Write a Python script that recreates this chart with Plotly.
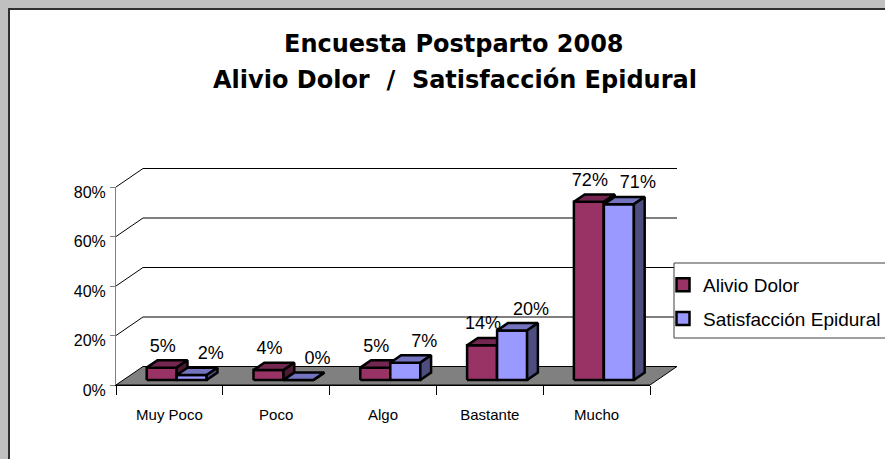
import plotly.graph_objects as go

# ---------------- data ----------------
categories = ["Muy Poco", "Poco", "Algo", "Bastante", "Mucho"]
alivio_dolor = [5, 4, 5, 14, 72]
satisfaccion_epidural = [2, 0, 7, 20, 71]
series_names = ["Alivio Dolor", "Satisfacción Epidural"]
y_tick_values = [0, 20, 40, 60, 80]
y_tick_labels = ["0%", "20%", "40%", "60%", "80%"]
title_line_1 = "Encuesta Postparto 2008"
title_line_2 = "Alivio Dolor \u00a0/\u00a0 Satisfacción Epidural"

# ---------------- geometry / style ----------------
W, H = 885, 459
FX0, FX1 = 116, 650          # front plane, pixels
FY0, FY1 = 385, 187          # y pixel of 0 and of YMAX on the front plane
YMAX = 80
n = len(categories)
sx = (FX1 - FX0) / n         # px per category
sy = (FY0 - FY1) / YMAX      # px per percent
DEPTH_DX, DEPTH_DY = 27, 18.5
ddx = DEPTH_DX / sx
ddy = DEPTH_DY / sy
bar_w = 30 / sx
f0, fd = 0.27, 0.40          # bar front position and depth (fraction of full depth)

front_cols = ["#993366", "#9999FF"]
top_cols = ["#732650", "#7373BF"]
side_cols = ["#4D1A33", "#4D4D80"]
label_dx_px = [1, 19]
label_dy_px = 13

FONT = "Liberation Sans, Arial, sans-serif"


def xv(px):
    return (px - FX0) / sx - 0.5


def yv(py):
    return (FY0 - py) / sy


# overlay subplot (3D drawing) pixel box
OX0, OX1, OY0, OY1 = 100, 700, 400, 150

fig = go.Figure()

# invisible trace so the category axis of the front plane has its categories
fig.add_trace(go.Scatter(x=categories, y=alivio_dolor, mode="none",
                         showlegend=False, hoverinfo="skip", xaxis="x", yaxis="y"))

# floor
fig.add_trace(go.Scatter(
    x=[-0.5, -0.5 + ddx, n - 0.5 + ddx, n - 0.5, -0.5],
    y=[0, ddy, ddy, 0, 0],
    mode="lines", fill="toself", fillcolor="#808080",
    line=dict(color="#000000", width=1),
    showlegend=False, hoverinfo="skip", xaxis="x2", yaxis="y2"))

# side & back wall grid lines
gx, gy = [], []
for v in y_tick_values[1:]:
    gx += [-0.5, -0.5 + ddx, n - 0.5 + ddx, None]
    gy += [v, v + ddy, v + ddy, None]
fig.add_trace(go.Scatter(x=gx, y=gy, mode="lines",
                         line=dict(color="#000000", width=1),
                         showlegend=False, hoverinfo="skip", xaxis="x2", yaxis="y2"))

# 3D bars
series = [alivio_dolor, satisfaccion_epidural]
lab_x, lab_y, lab_t = [], [], []
for s, vals in enumerate(series):
    fx, fy, tx, ty, sxs, sys_ = [], [], [], [], [], []
    for i, v in enumerate(vals):
        xl = i + f0 * ddx - bar_w + s * bar_w
        xr = xl + bar_w
        b = f0 * ddy
        t = b + v
        dx, dy = fd * ddx, fd * ddy
        fx += [xl, xr, xr, xl, xl, None]
        fy += [b, b, t, t, b, None]
        tx += [xl, xr, xr + dx, xl + dx, xl, None]
        ty += [t, t, t + dy, t + dy, t, None]
        sxs += [xr, xr + dx, xr + dx, xr, xr, None]
        sys_ += [b, b + dy, t + dy, t, b, None]
        lab_x.append(xl + bar_w / 2 + label_dx_px[s] / sx)
        lab_y.append(t + dy + label_dy_px / sy)
        lab_t.append(f"{v}%")
    for px_, py_, col in [(fx, fy, front_cols[s]), (tx, ty, top_cols[s]), (sxs, sys_, side_cols[s])]:
        fig.add_trace(go.Scatter(x=px_, y=py_, mode="lines", fill="toself",
                                 fillcolor=col, line=dict(color="#000000", width=2.5),
                                 showlegend=False, hoverinfo="skip",
                                 xaxis="x2", yaxis="y2"))

# data labels
fig.add_trace(go.Scatter(x=lab_x, y=lab_y, text=lab_t, mode="text",
                         textposition="middle center",
                         textfont=dict(family=FONT, size=18, color="#000000"),
                         cliponaxis=False, showlegend=False, hoverinfo="skip",
                         xaxis="x2", yaxis="y2"))

# legend entries
for s, name in enumerate(series_names):
    fig.add_trace(go.Scatter(x=[None], y=[None], mode="markers", name=name,
                             legendgroup=name,
                             marker=dict(symbol="square", size=13, color=front_cols[s],
                                         line=dict(color="#000000", width=2.5)),
                             xaxis="x2", yaxis="y2"))

fig.update_layout(
    width=W, height=H,
    margin=dict(l=0, r=0, t=0, b=0, autoexpand=False),
    paper_bgcolor="#C0C0C0",
    plot_bgcolor="rgba(0,0,0,0)",
    showlegend=True,
    xaxis=dict(domain=[FX0 / W, FX1 / W], range=[-0.5, n - 0.5], type="category",
               categoryorder="array", categoryarray=categories,
               tickson="boundaries", ticks="outside", ticklen=9, tickwidth=1,
               tickcolor="#000000", showline=True, linecolor="#000000", linewidth=1,
               showgrid=False, zeroline=False, ticklabelstandoff=16,
               tickfont=dict(family=FONT, size=15, color="#000000"), anchor="y",
               fixedrange=True),
    yaxis=dict(domain=[1 - FY0 / H, 1 - FY1 / H], range=[0, YMAX],
               tickmode="array", tickvals=y_tick_values, ticktext=y_tick_labels,
               ticks="outside", ticklen=5, tickcolor="#808080", showline=True,
               linecolor="#808080", linewidth=1, showgrid=False, zeroline=False,
               ticklabelshift=5, ticklabelstandoff=1,
               tickfont=dict(family=FONT, size=16, color="#000000"), anchor="x",
               fixedrange=True),
    xaxis2=dict(domain=[OX0 / W, OX1 / W], range=[xv(OX0), xv(OX1)], visible=False,
                anchor="y2", fixedrange=True),
    yaxis2=dict(domain=[1 - OY0 / H, 1 - OY1 / H], range=[yv(OY0), yv(OY1)], visible=False,
                anchor="x2", fixedrange=True),
    legend=dict(x=(703 - 40) / W, xanchor="left", y=1 - 266 / H, yanchor="top",
                bgcolor="rgba(0,0,0,0)", borderwidth=0, traceorder="grouped",
                tracegroupgap=6,
                font=dict(family=FONT, size=19, color="#000000")),
    shapes=[
        dict(type="rect", xref="paper", yref="paper", x0=9 / W, x1=1.05,
             y0=-0.05, y1=1 - 9 / H, fillcolor="#FFFFFF",
             line=dict(color="#303030", width=2), layer="below"),
        dict(type="rect", xref="paper", yref="paper", x0=674 / W, x1=1.05,
             y0=1 - 338 / H, y1=1 - 263 / H, fillcolor="#FFFFFF",
             line=dict(color="#404040", width=1), layer="above"),
    ],
    annotations=[
        dict(text=title_line_1, xref="paper", yref="paper", x=454 / W, y=1 - 43.5 / H,
             xanchor="center", yanchor="middle", showarrow=False,
             font=dict(family="DejaVu Sans", size=24, weight="bold", color="#000000")),
        dict(text=title_line_2, xref="paper", yref="paper", x=455 / W, y=1 - 79.5 / H,
             xanchor="center", yanchor="middle", showarrow=False,
             font=dict(family="DejaVu Sans", size=24, weight="bold", color="#000000")),
    ],
)

fig.write_html(
    "out.html",
    config={"displayModeBar": False},
    post_script="document.body.style.margin='0';document.body.style.overflow='hidden';",
)
